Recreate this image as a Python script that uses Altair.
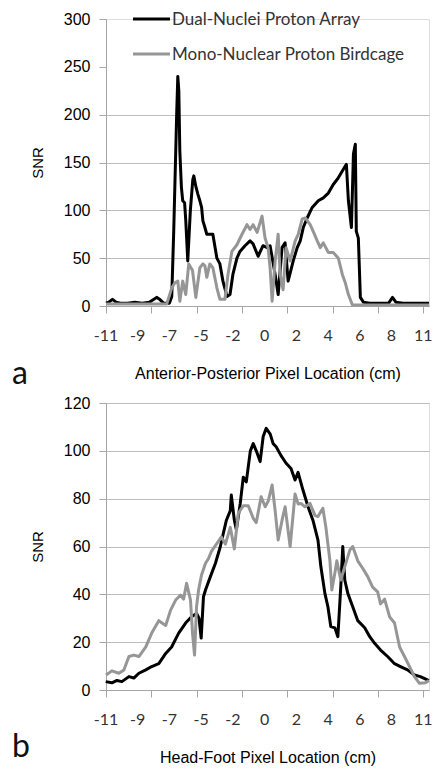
import altair as alt
import pandas as pd

SERIES = ["Dual-Nuclei Proton Array", "Mono-Nuclear Proton Birdcage"]
COLORS = ["#000000", "#969696"]
X_LABELS = ["-11", "-9", "-7", "-5", "-2", "0", "2", "4", "6", "8", "11"]

# ---- Panel a: Anterior-Posterior ----
a_black_x = [-11.0, -10.8, -10.55, -10.3, -10.0, -9.5, -9.0, -8.5, -8.0, -7.49, -7.28, -7.0, -6.6,
             -6.44, -6.3, -6.1, -6.02, -5.95, -5.88, -5.77, -5.68, -5.55, -5.47, -5.33, -5.15,
             -4.98, -4.91, -4.77, -4.63, -4.49, -4.37, -4.28, -4.14, -4.01, -3.80, -3.59, -3.31,
             -3.10, -2.89, -2.61, -2.40, -2.20, -1.92, -1.71, -1.36, -1.01, -0.80, -0.45, -0.11,
             0.17, 0.38, 0.73, 0.94, 1.21, 1.42, 1.63, 1.98, 2.26, 2.47, 2.68, 2.95, 3.30, 3.72,
             4.07, 4.42, 4.76, 5.11, 5.46, 5.67, 5.81, 6.02, 6.16, 6.29, 6.36, 6.50, 6.64, 6.85,
             7.3, 8.0, 8.6, 8.87, 9.1, 9.6, 10.2, 10.8, 11.4]
a_black_y = [3, 4, 7, 4, 3, 3, 4, 3, 4, 9, 7, 3, 3,
             10, 80, 200, 240, 225, 162, 124, 110, 108, 90, 47, 100,
             132, 136, 125, 117, 110, 103, 89, 82, 75, 75, 75, 50,
             44, 26, 10, 12, 33, 50, 57, 63, 68, 65, 52, 63,
             61, 63, 33, 12, 61, 66, 26, 47, 61, 68, 82, 92, 103, 110,
             113, 118, 127, 134, 143, 148, 110, 82, 159, 169, 78, 71, 9, 4,
             3, 3, 3, 9, 4, 3, 3, 3, 3]

a_gray_x = [-11.0, -10.0, -9.0, -8.0, -7.2, -6.79, -6.44, -6.23, -6.02, -5.88, -5.68, -5.47,
            -5.26, -5.00, -4.77, -4.49, -4.28, -4.14, -4.01, -3.80, -3.59, -3.31, -3.10, -2.75,
            -2.54, -2.27, -1.92, -1.57, -1.22, -1.01, -0.80, -0.52, -0.18, 0.03, 0.24, 0.38,
            0.52, 0.73, 0.94, 1.08, 1.28, 1.49, 1.77, 2.12, 2.33, 2.61, 2.82, 3.16, 3.37, 3.65,
            3.86, 4.07, 4.42, 4.76, 5.11, 5.39, 5.60, 5.81, 6.09, 7.0, 8.0, 9.0, 10.0, 11.4]
a_gray_y = [2, 2, 2, 2, 2, 2, 19, 24, 26, 5, 26, 12,
            44, 37, 9, 40, 44, 42, 30, 44, 40, 19, 7, 7,
            33, 57, 64, 75, 85, 80, 85, 77, 94, 71, 61, 40,
            5, 47, 75, 33, 17, 61, 47, 68, 75, 91, 92, 85, 78, 68,
            61, 66, 56, 56, 50, 33, 24, 12, 1, 1, 1, 1, 1, 1]

# ---- Panel b: Head-Foot ----
b_black_x = [-11.02, -10.59, -10.24, -9.90, -9.41, -9.07, -8.72, -8.24, -7.83, -7.34, -6.86, -6.45,
             -5.96, -5.48, -5.07, -4.72, -4.55, -4.40, -4.24, -4.10, -3.76, -3.41, -3.07, -2.86,
             -2.65, -2.38, -2.31, -2.10, -1.96, -1.69, -1.48, -1.27, -0.99, -0.79, -0.58, -0.31,
             -0.10, 0.11, 0.39, 0.59, 0.80, 1.14, 1.49, 1.83, 2.11, 2.32, 2.66, 3.01, 3.35, 3.70,
             3.90, 4.18, 4.39, 4.59, 4.87, 5.08, 5.28, 5.42, 5.56, 5.77, 6.11, 6.46, 6.94, 7.29,
             7.63, 8.04, 8.53, 9.01, 9.42, 9.91, 10.39, 10.80, 11.29, 11.4]
b_black_y = [3.5, 3, 4, 3.5, 5.6, 5, 7, 8.4, 9.8, 11, 15.3, 18,
             23.8, 28, 30.6, 32, 30, 21.7, 39, 41.8, 47.4, 53, 60, 65.6,
             71, 75, 81.5, 71, 67, 78, 89, 87, 100, 103, 100, 95.5,
             106, 109.4, 107, 103, 101.7, 98, 94.8, 92.6, 87.8, 91, 83.6, 76.6, 71, 62.7,
             51.6, 40.4, 34.8, 26.5, 26, 22.3, 43, 60, 46, 40.4, 34.8, 29, 26, 22.3,
             19.5, 16.7, 14, 11, 9.8, 8.4, 6.3, 5.6, 4.2, 4]

b_gray_x = [-11.0, -10.59, -10.10, -9.76, -9.41, -9.07, -8.72, -8.24, -7.83, -7.34, -6.86, -6.52,
            -6.17, -5.83, -5.62, -5.41, -5.14, -5.00, -4.86, -4.72, -4.58, -4.38, -4.10, -3.89,
            -3.69, -3.34, -3.00, -2.72, -2.38, -2.10, -1.82, -1.48, -1.13, -0.79, -0.58, -0.24,
            0.04, 0.25, 0.52, 0.73, 0.94, 1.21, 1.42, 1.77, 2.11, 2.32, 2.52, 2.80, 3.15, 3.49,
            3.70, 4.04, 4.25, 4.53, 4.66, 4.87, 5.01, 5.28, 5.56, 5.91, 6.11, 6.46, 6.80, 7.15,
            7.49, 7.84, 8.04, 8.32, 8.67, 9.01, 9.36, 9.70, 10.05, 10.39, 10.74, 11.15, 11.4]
b_gray_y = [6.3, 8, 7, 8.4, 14, 14.6, 14, 18, 23.8, 29, 27, 33.4,
            37.6, 39.7, 38, 44.6, 37.6, 23.8, 14.6, 34.8, 41.8, 48, 53, 55,
            58, 61, 64, 61, 68, 59, 74, 77, 77, 71.8, 70, 80.8,
            76.6, 79, 85.7, 75, 62.7, 71, 76.6, 60, 82, 77.8, 78, 76.6, 78, 73,
            72.5, 76, 68, 54, 41.8, 48.8, 54, 46, 51.6, 58.5, 60, 54, 50.9, 47.4,
            43, 41, 36, 38, 30.6, 28, 18, 14, 9.8, 5.6, 2.8, 3, 4]

X_DOMAIN = [-11.0, 11.4]
LABEL_POS = [-11 + 2.2 * k for k in range(len(X_LABELS))]
TICK_POS = [-11 + 22.0 / 14 * k for k in range(15)]

W = 323
H = 287
GRID = "#bdbdbd"
AXC = "#a6a6a6"
TXT = "#333333"
FONT = "Lato"


def panel(bx, by, gx, gy, ymax, ystep, xtitle, letter, letter_y, hide_grid_above=None, legend=False):
    df = pd.concat([
        pd.DataFrame({"x": bx, "snr": by, "series": SERIES[0]}),
        pd.DataFrame({"x": gx, "snr": gy, "series": SERIES[1]}),
    ])
    yaxis_kw = dict(
        values=list(range(0, ymax + 1, ystep)), title="SNR", grid=True, gridColor=GRID,
        domainColor=AXC, tickColor=AXC, tickSize=7, labelPadding=9,
        labelFontSize=16, titleFontSize=15, titlePadding=18, titleFontWeight="normal",
        labelOverlap=False,
    )
    if hide_grid_above is not None:
        yaxis_kw["gridOpacity"] = {"condition": {"test": f"datum.value > {hide_grid_above}", "value": 0}, "value": 1}
    lines = alt.Chart(df).mark_line(strokeWidth=3, strokeJoin="round").encode(
        x=alt.X("x:Q", scale=alt.Scale(domain=X_DOMAIN, nice=False, zero=False),
                axis=alt.Axis(values=TICK_POS, labels=False, title=xtitle, grid=False,
                              domainColor=AXC, tickColor=AXC, tickSize=7,
                              titleFontSize=16, titlePadding=52, titleFontWeight="normal")),
        y=alt.Y("snr:Q", scale=alt.Scale(domain=[0, ymax], nice=False), axis=alt.Axis(**yaxis_kw)),
        color=alt.Color("series:N", scale=alt.Scale(domain=SERIES, range=COLORS), legend=None),
    )
    xlabels = alt.Chart(pd.DataFrame({"x": LABEL_POS, "label": X_LABELS})).mark_text(
        baseline="middle", align="center", fontSize=16, font=FONT, color=TXT
    ).encode(x=alt.X("x:Q"), y=alt.value(H + 30), text="label:N")
    letter_mark = alt.Chart(pd.DataFrame({"t": [letter]})).mark_text(
        align="left", baseline="alphabetic", fontSize=32, font=FONT, color="#111111"
    ).encode(text="t:N", x=alt.value(-94), y=alt.value(letter_y))
    layers = [lines, xlabels, letter_mark]
    if legend:
        for i, (name, col) in enumerate(zip(SERIES, COLORS)):
            d = pd.DataFrame({"name": [name]})
            layers.append(alt.Chart(d).mark_rule(color=col, strokeWidth=3).encode(
                x=alt.value(27), x2=alt.value(64), y=alt.value(35 * i)))
            layers.append(alt.Chart(d).mark_text(
                align="left", baseline="middle", fontSize=17, font=FONT, color=TXT
            ).encode(text="name:N", x=alt.value(66), y=alt.value(35 * i + 1)))
    return alt.layer(*layers).properties(width=W, height=H)


top = panel(a_black_x, a_black_y, a_gray_x, a_gray_y, 300, 50,
            "Anterior-Posterior Pixel Location (cm)", "a", 365, hide_grid_above=200, legend=True)
bottom = panel(b_black_x, b_black_y, b_gray_x, b_gray_y, 120, 20,
               "Head-Foot Pixel Location (cm)", "b", 354)

chart = alt.vconcat(top, bottom, spacing=3).properties(
    padding={"left": 11, "top": 10, "right": 0, "bottom": 0}
).configure_view(stroke=None).configure_axis(
    labelFont=FONT, titleFont=FONT, labelColor=TXT, titleColor=TXT, titleFontWeight="normal"
).configure(background="white")

chart.save("out.html", embed_options={"renderer": "svg", "actions": False})
